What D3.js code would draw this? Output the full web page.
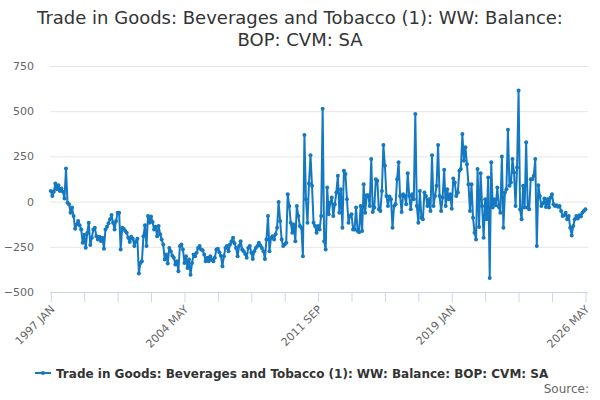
<!DOCTYPE html>
<meta charset="utf-8">
<style>
    body { margin: 0; background: #ffffff; }
    svg { display: block; font-family: "DejaVu Sans", sans-serif; }
</style>

<script src="https://cdn.jsdelivr.net/npm/d3@7"></script>

<svg id="chart" width="600" height="400"></svg>

<script>

// Data -----------------------------------------------------------------------

var titleLines = ['Trade in Goods: Beverages and Tobacco (1): WW: Balance:', 'BOP: CVM: SA'];
var seriesName = 'Trade in Goods: Beverages and Tobacco (1): WW: Balance: BOP: CVM: SA';
var creditText = 'Source:';

var firstYear = 1997;
var monthNames = ['JAN', 'FEB', 'MAR', 'APR', 'MAY', 'JUN', 'JUL', 'AUG', 'SEP', 'OCT', 'NOV', 'DEC'];

var yTicks = [-500, -250, 0, 250, 500, 750];
var tickStep = 22;     // months between tick marks
var labelStep = 88;    // months between tick labels

// monthly values, 1997 JAN .. 2026 MAY
var balance = [
    59, 31, 55, 100, 68, 90, 59, 72, 55, 17,
    183, -6, -15, -61, -33, -80, -150, -126, -107, -131,
    -154, -228, -183, -255, -173, -117, -240, -200, -154, -144,
    -191, -209, -194, -218, -200, -261, -154, -139, -120, -98,
    -74, -117, -154, -107, -61, -61, -265, -144, -150, -163,
    -172, -200, -224, -194, -205, -246, -220, -206, -398, -339,
    -330, -191, -131, -246, -80, -117, -83, -113, -154, -139,
    -191, -135, -181, -209, -237, -320, -293, -343, -256, -274,
    -300, -311, -348, -330, -385, -246, -237, -265, -339, -302,
    -367, -320, -404, -339, -293, -302, -283, -256, -246, -265,
    -269, -293, -330, -311, -330, -302, -320, -330, -311, -265,
    -261, -280, -300, -357, -302, -256, -246, -274, -237, -219,
    -200, -230, -256, -302, -246, -219, -265, -274, -290, -311,
    -256, -246, -283, -317, -274, -256, -246, -228, -243, -256,
    -275, -317, -209, -80, -274, -200, -191, -209, -181, -144,
    -2, -107, -209, -246, -237, -228, 41, -24, -117, -172,
    -126, -219, -24, -80, -135, -144, -302, 369, 13, -117,
    100, 257, 87, -117, -135, -172, -135, -154, -80, 513,
    -219, -265, 78, -70, -6, 22, -80, -15, 50, 143,
    -61, 68, -144, 170, 152, 13, -117, -80, -70, -154,
    -154, -33, -163, -169, -24, -163, 96, -61, 35, 35,
    -24, 235, -57, -33, 124, 115, -43, -52, 59, 313,
    198, 31, -24, 28, 13, -144, -24, -15, 124, 217,
    31, -57, 41, 31, -15, 157, 31, -43, 41, 13,
    485, -24, -117, 59, -89, -98, 50, 31, -24, 13,
    -52, 257, -24, 31, 87, 313, 31, -52, 22, 176,
    -24, 68, 13, 40, -39, 128, 105, 31, 50, 170,
    180, 374, 226, 300, 207, 96, -52, 96, -89, -172,
    -209, 180, -140, 157, -24, -200, 13, -98, 133, -422,
    217, -33, 13, -20, 78, -30, -61, 250, -144, 50,
    68, 398, 87, 106, 235, 161, -24, 189, 615, -43,
    -98, 87, -33, 328, -33, -43, 124, 124, 143, 235,
    -246, 91, 31, -24, -10, 17, -30, 13, -33, 22,
    41, -15, -24, -20, -28, -24, -52, -80, -76, -61,
    -98, -80, -144, -187, -135, -98, -80, -94, -76, -83,
    -61, -52, -43
];

var monthLabel = function (i) {
    return (firstYear + Math.floor(i / 12)) + ' ' + monthNames[i % 12];
};


// Layout ---------------------------------------------------------------------

var svg = d3.select('svg#chart');

var plotLeft = 50, plotRight = 588;
var plotTop = 66, plotBottom = 292;
var lineColor = '#1479c0';

var x = d3.scaleLinear()
    .domain([0, balance.length - 1])
    .range([50.8, 585.4]);

var y = d3.scaleLinear()
    .domain([-500, 750])
    .range([plotBottom, plotTop]);


// Title

svg.append('g')
    .selectAll('text')
    .data(titleLines)
    .enter().append('text')
    .attr('x', 300)
    .attr('y', function (d, i) { return 24 + i * 22; })
    .attr('text-anchor', 'middle')
    .attr('fill', '#333333')
    .attr('font-size', '18px')
    .text(function (d) { return d; });


// Y axis with grid lines

var yAxis = svg.append('g')
    .attr('transform', 'translate(' + plotLeft + ',0)')
    .call(d3.axisLeft(y)
        .tickValues(yTicks)
        .tickSize(-(plotRight - plotLeft))
        .tickPadding(16)
        .tickFormat(d3.format('d')));

yAxis.select('.domain').remove();
yAxis.selectAll('line').attr('stroke', '#e6e6e6');
yAxis.selectAll('text')
    .attr('fill', '#666666')
    .attr('font-size', '11px')
    .attr('font-family', '"DejaVu Sans", sans-serif');


// X axis

var tickIdx = d3.range(0, balance.length, tickStep);

var xAxis = svg.append('g')
    .attr('transform', 'translate(0,' + plotBottom + ')')
    .call(d3.axisBottom(x)
        .tickValues(tickIdx)
        .tickSize(10)
        .tickSizeOuter(0)
        .tickFormat(function (d) { return d % labelStep === 0 ? monthLabel(d) : ''; }));

xAxis.select('.domain')
    .attr('stroke', '#ccd6eb')
    .attr('d', 'M' + plotLeft + ',0.5H' + plotRight);
xAxis.selectAll('line').attr('stroke', '#ccd6eb');
xAxis.selectAll('text')
    .attr('fill', '#666666')
    .attr('font-size', '11px')
    .attr('font-family', '"DejaVu Sans", sans-serif')
    .attr('text-anchor', 'end')
    .attr('dy', null)
    .attr('y', 0)
    .attr('transform', 'translate(4,18) rotate(-45)');


// Series

var line = d3.line()
    .x(function (d, i) { return x(i); })
    .y(function (d) { return y(d); });

svg.append('path')
    .datum(balance)
    .attr('fill', 'none')
    .attr('stroke', lineColor)
    .attr('stroke-width', 2)
    .attr('stroke-linejoin', 'round')
    .attr('d', line);

svg.append('g')
    .selectAll('circle')
    .data(balance)
    .enter().append('circle')
    .attr('cx', function (d, i) { return x(i); })
    .attr('cy', function (d) { return y(d); })
    .attr('r', 2)
    .attr('fill', lineColor);


// Legend

var legend = svg.append('g')
    .attr('transform', 'translate(35,373)');

legend.append('line')
    .attr('x1', 0).attr('x2', 16)
    .attr('stroke', lineColor)
    .attr('stroke-width', 2);

legend.append('circle')
    .attr('cx', 8)
    .attr('r', 2)
    .attr('fill', lineColor);

legend.append('text')
    .attr('x', 21)
    .attr('y', 4.5)
    .attr('fill', '#333333')
    .attr('font-size', '12px')
    .attr('font-weight', 'bold')
    .text(seriesName);


// Credit

svg.append('text')
    .attr('x', 589)
    .attr('y', 393)
    .attr('text-anchor', 'end')
    .attr('fill', '#666666')
    .attr('font-size', '12px')
    .text(creditText);

</script>
